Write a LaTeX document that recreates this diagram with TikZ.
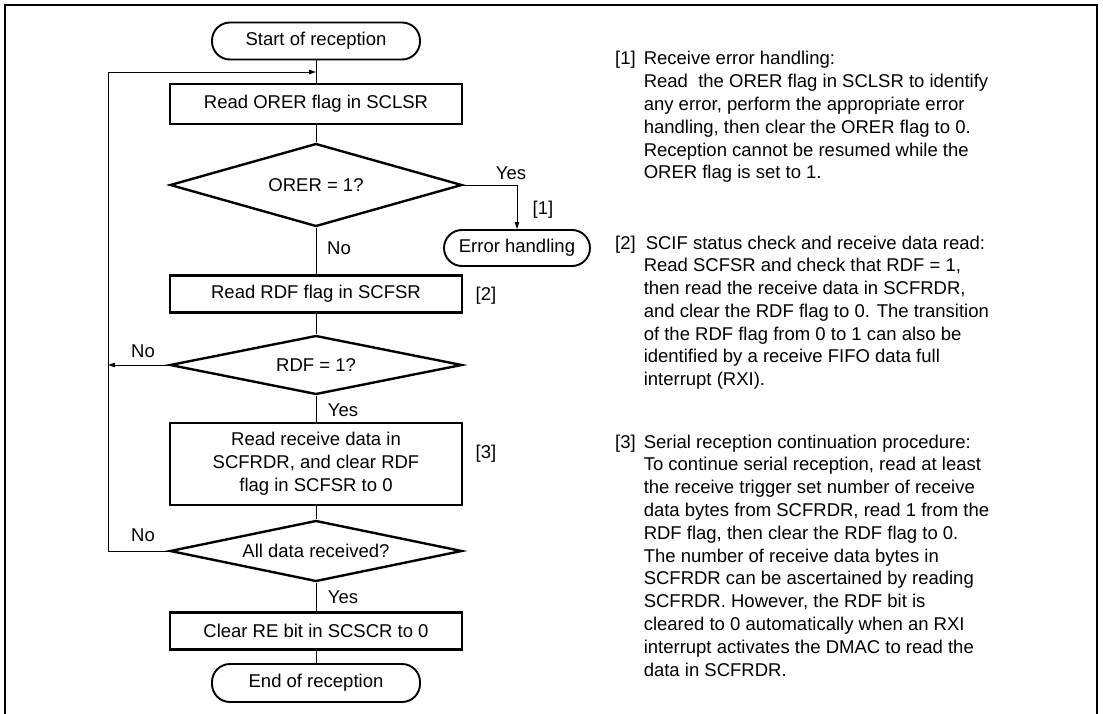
\documentclass[tikz,border=0pt]{standalone}
\usepackage{fontspec}
\setmainfont{Liberation Sans}
\usetikzlibrary{shapes.geometric,arrows.meta}
\begin{document}
\begin{tikzpicture}[x=1pt,y=-1pt,
  every node/.style={font=\fontsize{18.5}{22.8}\selectfont, inner sep=0pt, text=black},
  box/.style={draw, line width=2.4pt, minimum width=292pt, align=center},
  term/.style={draw, line width=1.9pt, rounded corners=18pt, minimum height=37pt},
  dec/.style={draw, diamond, line width=2.4pt, aspect=4.6, minimum width=292pt},
  conn/.style={line width=0.9pt},
  arr/.style={conn, -{Triangle[length=7pt,width=4.5pt]}},
  lbl/.style={},
  para/.style={anchor=base west},
]
\useasboundingbox (0,0) rectangle (1103,714);
\draw[line width=2pt] (5,714) -- (5,5) -- (1097,5) -- (1097,714);

\node[term, minimum width=208pt] (start) at (316,41) {Start of reception};
\node[box, minimum height=40pt] (orer) at (316,104) {Read ORER flag in SCLSR};
\node[dec, minimum height=83pt] (d1) at (316,185) {ORER = 1?};
\node[term, minimum width=146pt, minimum height=36pt] (err) at (517,248) {Error handling};
\node[box, minimum height=37pt] (rdf) at (316,294) {Read RDF flag in SCFSR};
\node[dec, minimum height=59pt] (d2) at (316,365) {RDF = 1?};
\node[box, minimum height=82pt] (rd) at (316,464) {Read receive data in\\SCFRDR, and clear RDF\\flag in SCFSR to 0};
\node[dec, minimum height=61pt] (d3) at (316,551) {All data received?};
\node[box, minimum height=37pt] (clr) at (316,631) {Clear RE bit in SCSCR to 0};
\node[term, minimum width=208pt, minimum height=38pt] (end) at (316,683) {End of reception};

\coordinate (j1) at (316,72);
\coordinate (lp) at (108,72);

\draw[conn] (start) -- (orer);
\draw[conn] (orer) -- (d1);
\draw[conn] (d1) -- (rdf);
\draw[conn] (rdf) -- (d2);
\draw[conn] (d2) -- (rd);
\draw[conn] (rd) -- (d3);
\draw[conn] (d3) -- (clr);
\draw[conn] (clr) -- (end);
\draw[arr] (d1.east) -| (err.north);
\draw[arr] (d2.west) -- (d2.west -| lp);
\draw[arr] (d3.west) -| (lp) -- (j1);

\node[lbl] (y1) at (511,173) {Yes};
\node[lbl] (r1) at (543,210) {[1]};
\node[lbl] (n1) at (339,248) {No};
\node[lbl] (r2) at (486,296) {[2]};
\node[lbl] (n2) at (143,351) {No};
\node[lbl] (y2) at (343,410) {Yes};
\node[lbl] (r3) at (486,454) {[3]};
\node[lbl] (n3) at (143,535) {No};
\node[lbl] (y3) at (343,597) {Yes};

\node[para] (t1) at (615,65) {\begin{tabular}[t]{@{}l@{\hspace{8pt}}l@{}}
[1] & Receive error handling:\\
 & Read\ \ the ORER flag in SCLSR to identify\\
 & any error, perform the appropriate error\\
 & handling, then clear the ORER flag to 0.\\
 & Reception cannot be resumed while the\\
 & ORER flag is set to 1.
\end{tabular}};
\node[para] (t2) at (615,249) {\begin{tabular}[t]{@{}l@{\hspace{8pt}}l@{}}
[2] & \hspace{2pt}SCIF status check and receive data read:\\
 & Read SCFSR and check that RDF = 1,\\
 & then read the receive data in SCFRDR,\\
 & and clear the RDF flag to 0. The transition\\
 & of the RDF flag from 0 to 1 can also be\\
 & identified by a receive FIFO data full\\
 & interrupt (RXI).
\end{tabular}};
\node[para] (t3) at (615,448) {\begin{tabular}[t]{@{}l@{\hspace{8pt}}l@{}}
[3] & Serial reception continuation procedure:\\
 & To continue serial reception, read at least\\
 & the receive trigger set number of receive\\
 & data bytes from SCFRDR, read 1 from the\\
 & RDF flag, then clear the RDF flag to 0.\\
 & The number of receive data bytes in\\
 & SCFRDR can be ascertained by reading\\
 & SCFRDR. However, the RDF bit is\\
 & cleared to 0 automatically when an RXI\\
 & interrupt activates the DMAC to read the\\
 & data in SCFRDR.
\end{tabular}};
\end{tikzpicture}
\end{document}
